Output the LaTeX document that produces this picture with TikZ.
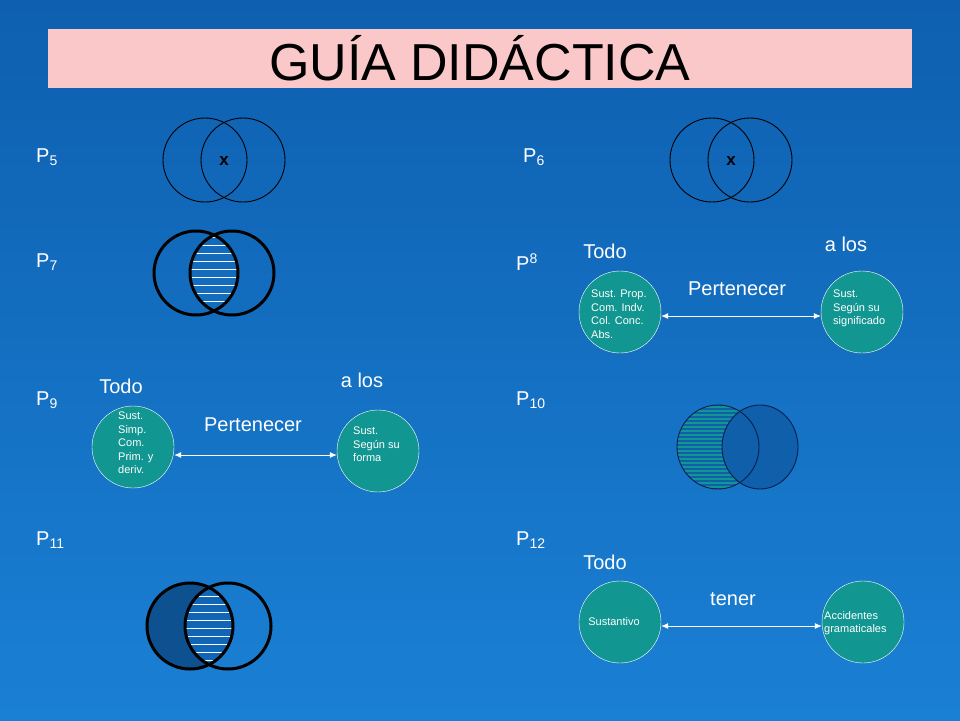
\documentclass[tikz,border=0pt]{standalone}
\usepackage{fontspec}
\setmainfont{Liberation Sans}
\usetikzlibrary{arrows.meta}
\newcommand{\sbs}[1]{\raisebox{-0.3ex}{\fontsize{14}{14}\selectfont #1}}
\newcommand{\sps}[1]{\raisebox{0.6ex}{\fontsize{14}{14}\selectfont #1}}
\begin{document}
\begin{tikzpicture}[x=1pt,y=-1pt,
  lbl/.style={text=white,font=\fontsize{20}{22}\selectfont,inner sep=0},
  small/.style={text=white,font=\fontsize{11}{13.5}\selectfont,align=left,inner sep=0},
  tealc/.style={circle,draw=white,fill=teal1,minimum size=82pt,inner sep=0},
  thin/.style={draw=black,line width=0.9pt},
  thick/.style={draw=black,line width=3pt},
  arr/.style={{Latex[length=7pt,width=6pt]}-{Latex[length=7pt,width=6pt]},white,line width=0.8pt}]
\definecolor{teal1}{RGB}{18,150,145}
\definecolor{bgtop}{RGB}{14,95,175}
\definecolor{bgbot}{RGB}{26,128,212}
\definecolor{pinkb}{RGB}{250,200,200}
\definecolor{navy}{RGB}{10,30,80}
\definecolor{dblue}{RGB}{15,95,170}
\shade[top color=bgtop,bottom color=bgbot] (0,0) rectangle (960,720);
\useasboundingbox (0,0) rectangle (960,720);
% title
\node[fill=pinkb,minimum width=864pt,minimum height=59pt,inner sep=0,
  font=\fontsize{52}{56}\selectfont] (title) at (480,58.5) {GUÍA\hspace{14pt}DIDÁCTICA};
% P labels
\node[lbl,anchor=west] (p5) at (36,157) {P\sbs{5}};
\node[lbl,anchor=west] (p7) at (36,262) {P\sbs{7}};
\node[lbl,anchor=west] (p9) at (36,400) {P\sbs{9}};
\node[lbl,anchor=west] (p11) at (36,540) {P\sbs{11}};
\node[lbl,anchor=west] (p6) at (523,157) {P\sbs{6}};
\node[lbl,anchor=west] (p8) at (516,262) {P\sps{8}};
\node[lbl,anchor=west] (p10) at (516,400) {P\sbs{10}};
\node[lbl,anchor=west] (p12) at (516,540) {P\sbs{12}};
% P5, P6
\draw[thin] (205,160) circle (42);
\draw[thin] (243,160) circle (42);
\node[font=\bfseries\fontsize{17}{18}\selectfont,text=black] (x1) at (224,161) {x};
\draw[thin] (712,160) circle (42);
\draw[thin] (750,160) circle (42);
\node[font=\bfseries\fontsize{17}{18}\selectfont,text=black] (x2) at (731,161) {x};
% P7
\begin{scope}
\clip (196,273) circle (42);
\clip (232,273) circle (42);
\foreach \yy in {237,245,...,311} \draw[white,line width=1pt] (180,\yy) -- (250,\yy);
\end{scope}
\draw[thick] (196,273) circle (42);
\draw[thick] (232,273) circle (42);
% P11
\fill[dblue!85!black] (190,626) circle (43);
\begin{scope}
\clip (190,626) circle (43);
\clip (228,626) circle (43);
\fill[bgtop!80!bgbot] (150,580) rectangle (280,680);
\foreach \yy in {588,596,...,668} \draw[white,line width=1pt] (180,\yy) -- (250,\yy);
\end{scope}
\draw[thick] (190,626) circle (43);
\draw[thick] (228,626) circle (43);
% P10
\begin{scope}
\clip (718,447) circle [x radius=41,y radius=42];
\fill[teal1] (670,400) rectangle (770,495);
\foreach \yy in {405,409,...,490} \draw[dblue,line width=1.2pt] (670,\yy) -- (770,\yy);
\end{scope}
\fill[dblue] (760,447) circle [x radius=38,y radius=42];
\draw[navy,line width=0.9pt] (718,447) circle [x radius=41,y radius=42];
\draw[navy,line width=0.9pt] (760,447) circle [x radius=38,y radius=42];
% P9
\node[tealc] (a9) at (133,447) {};
\node[small,anchor=north west] (a9t) at (118,412) {Sust.\\Simp.\\Com.\\Prim. y\\deriv.};
\node[tealc] (b9) at (378,451) {};
\node[small,anchor=north west] (b9t) at (353,427) {Sust.\\Según su\\forma};
\draw[arr] (a9.east |- 0,455) -- (b9.west |- 0,455);
\node[lbl] (todo9) at (121,386) {Todo};
\node[lbl] (alos9) at (362,380) {a los};
\node[lbl] (per9) at (253,425) {Pertenecer};
% P8
\node[tealc] (a8) at (620,312) {};
\node[small,anchor=north west] (a8t) at (591,290) {Sust. Prop.\\Com. Indv.\\Col. Conc.\\Abs.};
\node[tealc] (b8) at (862,312) {};
\node[small,anchor=north west] (b8t) at (833,290) {Sust.\\Según su\\significado};
\draw[arr] (a8.east |- 0,316) -- (b8.west |- 0,316);
\node[lbl] (todo8) at (605,251) {Todo};
\node[lbl] (alos8) at (846,244) {a los};
\node[lbl] (per8) at (737,289) {Pertenecer};
% P12
\node[tealc] (a12) at (620,622) {};
\node[small] (a12t) at (614,622) {Sustantivo};
\node[tealc] (b12) at (863,622) {};
\node[small,anchor=west] (b12t) at (824,623) {Accidentes\\gramaticales};
\draw[arr] (a12.east |- 0,626) -- (b12.west |- 0,626);
\node[lbl] (todo12) at (605,562) {Todo};
\node[lbl] (tener) at (733,599) {tener};
\end{tikzpicture}
\end{document}
